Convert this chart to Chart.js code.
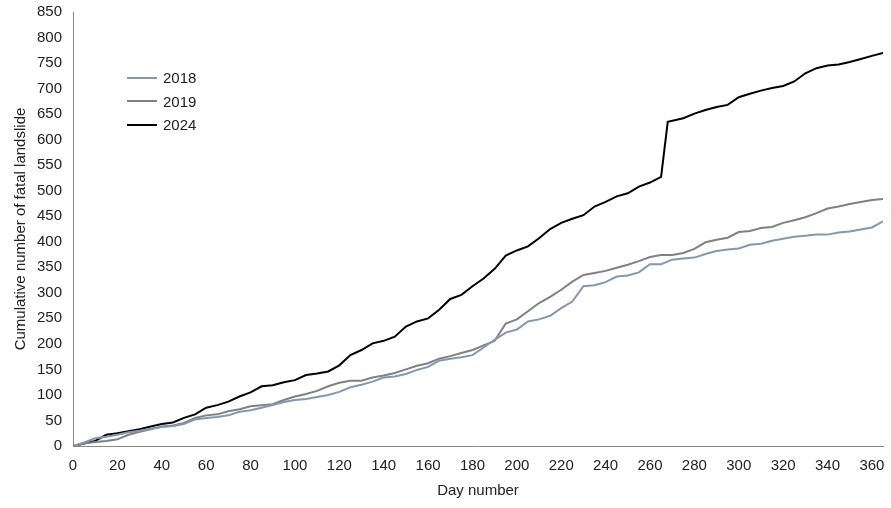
<!DOCTYPE html><html><head><meta charset="utf-8">
<script src="https://cdn.jsdelivr.net/npm/chart.js@4"></script>
<style>body{margin:0;background:#fff}#w{position:relative;width:891px;height:508px}
#lg{position:absolute;left:127px;top:66px;font:15px "Liberation Sans",Arial,sans-serif;color:#222}
#lg div{height:23.5px;display:flex;align-items:center}#lg span{display:inline-block;width:30px;height:2px;margin-right:6px}</style>
</head><body><div id="w"><canvas id="c" width="891" height="508"></canvas>
<div id="lg"><div><span style="background:#8497b0"></span>2018</div><div><span style="background:#808080"></span>2019</div><div><span style="background:#000"></span>2024</div></div></div>
<script>
const days=[0,5,10,15,20,25,30,35,40,45,50,55,60,65,70,75,80,85,90,95,100,105,110,115,120,125,130,135,140,145,150,155,160,165,170,175,180,185,190,195,200,205,210,215,220,225,230,235,240,245,250,255,260,265,270,275,280,285,290,295,300,305,310,315,320,325,330,335,340,345,350,355,360,365];
const s2018=[0,7,15,18,22,27,30,34,37,39,43,52,55,57,60,67,70,75,80,86,90,92,96,100,106,115,120,126,134,136,141,149,155,167,171,174,178,193,208,222,228,244,248,255,270,283,313,315,321,332,334,340,356,356,365,367,369,376,382,385,387,394,396,402,406,410,412,414,414,418,420,424,428,440];
const s2019=[0,5,8,10,13,22,28,33,38,40,45,55,60,62,68,72,78,80,82,90,97,102,108,117,124,128,128,134,138,143,150,157,162,171,176,182,188,197,206,240,248,264,280,292,306,322,335,339,343,349,355,362,370,374,374,378,386,399,404,408,419,421,427,429,437,442,448,456,465,469,474,478,482,484];
const d2024=[0,5,10,22,25,29,33,38,43,46,55,62,75,80,87,97,105,117,119,125,129,139,142,146,158,178,188,201,206,214,234,244,250,267,288,296,313,328,347,373,383,391,407,425,437,445,452,469,478,489,495,508,516,527,635,642,651,658,664,668,683,690,696,701,705,714,730,740,745,747,752,758,764,770];
const x2024=days.slice();x2024[54]=268;
const xTicks=[0,20,40,60,80,100,120,140,160,180,200,220,240,260,280,300,320,340,360];
const F={family:'"Liberation Sans",Arial,sans-serif',size:15};
const mk=(xs,ys)=>ys.map((y,i)=>({x:xs[i],y}));
new Chart(document.getElementById('c'),{type:'line',data:{datasets:[
{label:'2018',data:mk(days,s2018),borderColor:'#8497b0',borderWidth:2,pointRadius:0},
{label:'2019',data:mk(days,s2019),borderColor:'#808080',borderWidth:2,pointRadius:0},
{label:'2024',data:mk(x2024,d2024),borderColor:'#000',borderWidth:2,pointRadius:0}]},
options:{responsive:false,animation:false,layout:{padding:{top:8,right:8,left:8,bottom:4}},plugins:{legend:{display:false},tooltip:{enabled:false}},
scales:{x:{type:'linear',min:0,max:365,grid:{display:false,drawTicks:true,tickColor:'#888'},border:{color:'#888'},
afterBuildTicks:a=>{a.ticks=xTicks.map(v=>({value:v}));},
ticks:{color:'#222',font:F,autoSkip:false,maxRotation:0},title:{display:true,text:'Day number',color:'#222',font:F}},
y:{min:0,max:850,grid:{display:false,tickColor:'#888'},border:{color:'#888'},ticks:{stepSize:50,color:'#222',font:F},title:{display:true,text:'Cumulative number of fatal landslide',color:'#222',font:F}}}}});
</script></body></html>
